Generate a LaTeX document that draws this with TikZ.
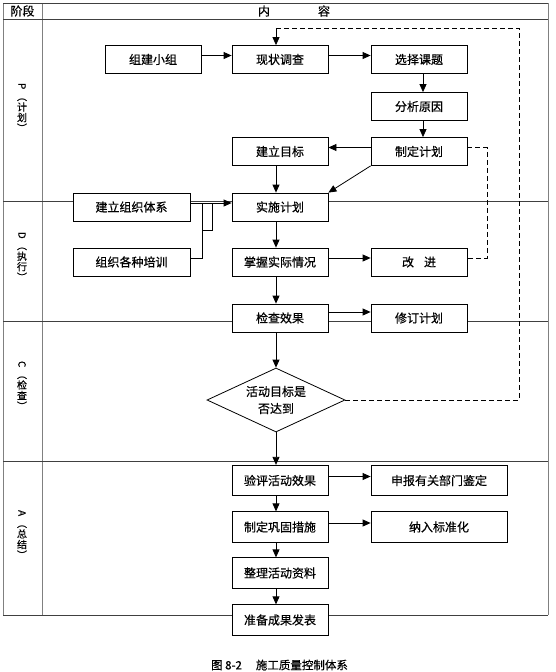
\documentclass[tikz,border=0pt]{standalone}
\usepackage{fontspec}
\usepackage{graphicx}
\setmainfont{Noto Sans CJK SC}[FakeBold=0.5]
\usetikzlibrary{arrows.meta, shapes.geometric, calc}
\newcommand\vlab[2]{\rotatebox[origin=c]{-90}{#1}\\\rotatebox[origin=c]{-90}{（}\\#2\\\rotatebox[origin=c]{-90}{）}}
\begin{document}
\begin{tikzpicture}[x=1pt,y=-1pt,
  box/.style={draw, line width=0.8pt, fill=white, minimum width=96pt, minimum height=28pt, inner sep=0pt, font=\fontsize{12}{14}\selectfont},
  tallbox/.style={box, minimum height=30.5pt},
  widebox/.style={tallbox, minimum width=136pt},
  leftbox/.style={box, minimum width=117pt},
  arr/.style={line width=0.8pt, -{Triangle[length=8pt,width=7pt]}},
  conn/.style={line width=0.8pt},
  dsh/.style={line width=0.8pt, dash pattern=on 5pt off 3pt},
  hline/.style={line width=0.9pt, black!75},
  vline/.style={line width=0.9pt, black!50},
  lab/.style={align=center, inner sep=0pt, font=\fontsize{10}{10.5}\selectfont},
  dia/.style={diamond, draw, line width=0.8pt, fill=white, aspect=2.16, minimum width=138pt, minimum height=64pt, inner sep=0pt, align=center, font=\fontsize{12}{17}\selectfont}]
\useasboundingbox (0,0) rectangle (555,672);
% table
\draw[vline] (3,3) -- (3,615) (42,3) -- (42,615) (548,3) -- (548,615);
\draw[hline] (3,3) -- (548,3) (3,19) -- (548,19) (3,201.5) -- (548,201.5)
  (3,321) -- (548,321) (3,461) -- (548,461) (3,615) -- (548,615);
\node[font=\fontsize{12}{14}\selectfont, inner sep=0pt] (h1) at (22.5,11) {阶段};
\node[font=\fontsize{12}{14}\selectfont, inner sep=0pt] (h2) at (294,11) {内\hspace{48pt}容};
% stage labels
\node[lab] (lp) at (22,108) {\vlab{P}{计\\划}};
\node[lab] (ld) at (22,257) {\vlab{D}{执\\行}};
\node[lab] (lc) at (22,386) {\vlab{C}{检\\查}};
\node[lab] (la) at (22,535) {\vlab{A}{总\\结}};
% boxes
\node[box] (zj) at (153,59.5) {组建小组};
\node[box] (xz) at (280,59.5) {现状调查};
\node[box] (xk) at (419,59.5) {选择课题};
\node[box] (fx) at (419,106.5) {分析原因};
\node[box] (mb) at (280,151.5) {建立目标};
\node[box] (zd) at (419,151.5) {制定计划};
\node[leftbox] (tx) at (131.5,207) {建立组织体系};
\node[box] (ss) at (280,207) {实施计划};
\node[leftbox] (px) at (131.5,262) {组织各种培训};
\node[box] (zw) at (280,262) {掌握实际情况};
\node[box] (gj) at (419,262) {改\hspace{10pt}进};
\node[box] (jc) at (280,318) {检查效果};
\node[box] (xd) at (419,318) {修订计划};
\node[dia] (dd) at (276,400) {活动目标是\\否达到};
\node[tallbox] (yp) at (280,480.5) {验评活动效果};
\node[widebox] (sb) at (439,480.5) {申报有关部门鉴定};
\node[tallbox] (gg) at (280,527) {制定巩固措施};
\node[widebox] (nr) at (439,527) {纳入标准化};
\node[tallbox] (zl) at (280,573) {整理活动资料};
\node[tallbox] (fb) at (280,620) {准备成果发表};
% caption
\node[font=\fontsize{11.5}{13}\selectfont, inner sep=0pt] (cap) at (279.5,665) {图 8-2\hspace{14pt}施工质量控制体系};
% connectors
\draw[arr] ([yshift=4pt]zj.east) -- ([yshift=4pt]xz.west);
\draw[arr] ([yshift=4pt]xz.east) -- ([yshift=4pt]xk.west);
\draw[arr] ([xshift=4pt]xk.south) -- ([xshift=4pt]fx.north);
\draw[arr] ([xshift=4pt]fx.south) -- ([xshift=4pt]zd.north);
\draw[arr] ([yshift=4pt]zd.west) -- ([yshift=4pt]mb.east);
\draw[arr] (zd.south west) -- (ss.north east);
\draw[arr] ([xshift=-4pt]mb.south) -- ([xshift=-4pt]ss.north);
\draw[arr] ([yshift=4pt]tx.east) -- ([yshift=4pt]ss.west);
\coordinate (b1) at (202,203);
\coordinate (b2) at (202,230);
\coordinate (b3) at (212,230);
\coordinate (b4) at (212,203);
\draw[conn] ([yshift=4pt]px.east) -| (b1);
\draw[conn] (b2) -- (b3) -- (b4);
\draw[arr] ([xshift=-4pt]ss.south) -- ([xshift=-4pt]zw.north);
\draw[arr] ([yshift=4pt]zw.east) -- ([yshift=4pt]gj.west);
\draw[arr] ([xshift=-4pt]zw.south) -- ([xshift=-4pt]jc.north);
\draw[arr] ([yshift=6pt]jc.east) -- ([yshift=6pt]xd.west);
\draw[arr] ([xshift=-4pt]jc.south) -- (dd.north);
\draw[arr] (dd.south) -- ([xshift=-4pt]yp.north);
\coordinate (d1) at (487,147.5);
\coordinate (d2) at (487,258);
\draw[dsh] ([yshift=4pt]zd.east) -- (d1) -- (d2) -- ([yshift=4pt]gj.east);
\coordinate (e1) at (519,400);
\coordinate (e2) at (519,28);
\coordinate (e3) at (276,28);
\draw[dsh] (dd.east) -- (e1) -- (e2) -- (e3);
\draw[arr] (e3) -- ([xshift=-4pt]xz.north);
\draw[arr] ([yshift=4pt]yp.east) -- ([yshift=4pt]sb.west);
\draw[arr] ([xshift=-4pt]yp.south) -- ([xshift=-4pt]gg.north);
\draw[arr] ([yshift=4pt]gg.east) -- ([yshift=4pt]nr.west);
\draw[arr] ([xshift=-4pt]gg.south) -- ([xshift=-4pt]zl.north);
\draw[arr] ([xshift=-4pt]zl.south) -- ([xshift=-4pt]fb.north);
\end{tikzpicture}
\end{document}
